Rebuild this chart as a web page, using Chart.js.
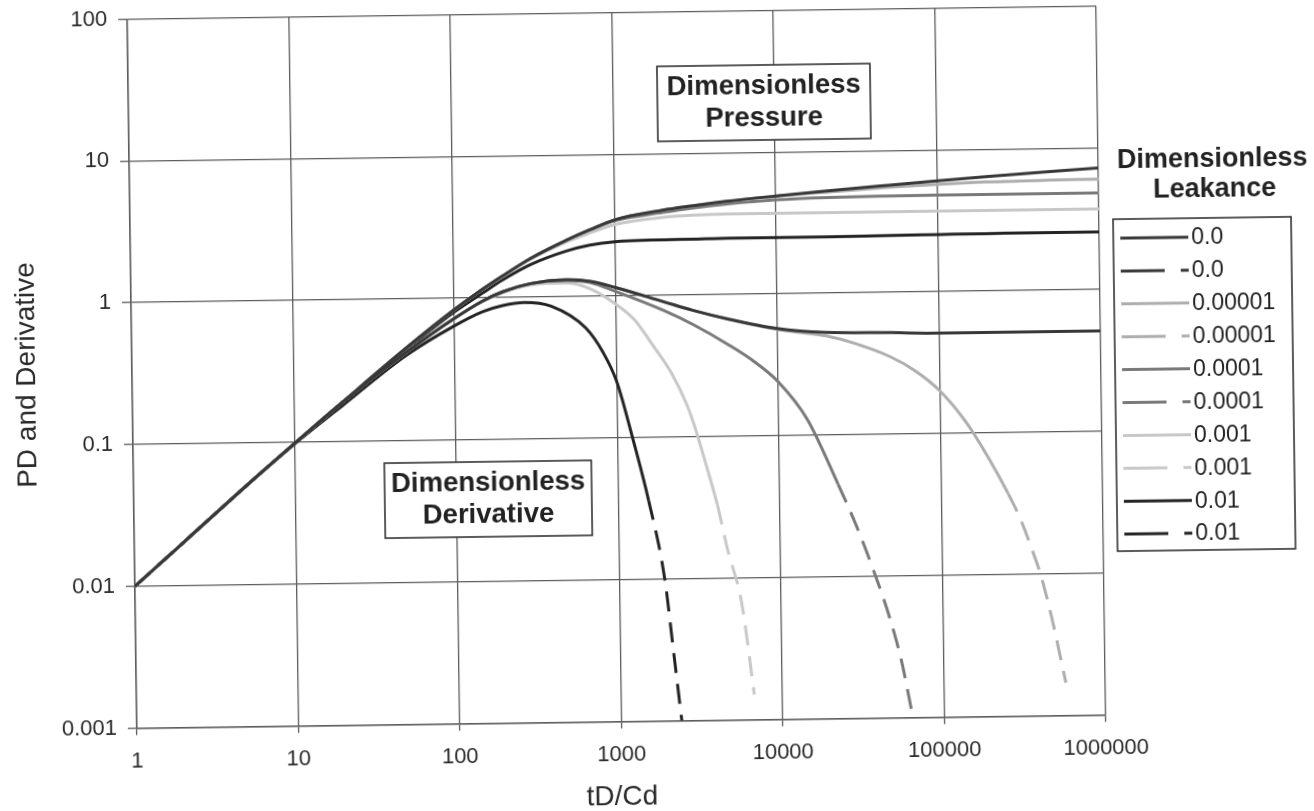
<!DOCTYPE html>
<html>
<head>
<meta charset="utf-8">
<script src="https://cdn.jsdelivr.net/npm/chart.js@4/dist/chart.umd.min.js"></script>
<style>
  html, body { margin: 0; padding: 0; background: #fff; overflow: hidden; }
  #wrap {
    width: 1314px; height: 811px; position: relative;
    transform: rotate(-0.78deg);
    transform-origin: 616.5px 367px;
  }
</style>
</head>
<body>
<div id="wrap"><canvas id="c" width="1314" height="811"></canvas></div>
<script>
// ---- data -----------------------------------------------------------
const leakances = ['0.0', '0.00001', '0.0001', '0.001', '0.01'];

const xTicks = [1, 10, 100, 1000, 10000, 100000, 1000000];
const yTicks = [0.001, 0.01, 0.1, 1, 10, 100];

// dimensionless time tD/Cd for the pressure curves
const tPressure = [1, 2, 5, 10, 20, 50, 100, 150, 200, 300, 500, 700, 1000, 2000, 3000, 5000,
                   10000, 20000, 50000, 100000, 200000, 500000, 1000000];

const pressure0     = [0.01, 0.02, 0.05, 0.098, 0.19, 0.45, 0.83, 1.15, 1.42, 1.88, 2.5, 2.95, 3.45, 4.0, 4.25, 4.55,
                       4.9, 5.25, 5.7, 6.05, 6.4, 6.85, 7.2];
const pressure1e5   = [0.01, 0.02, 0.05, 0.098, 0.19, 0.45, 0.83, 1.15, 1.42, 1.88, 2.5, 2.95, 3.45, 4.0, 4.25, 4.55,
                       4.88, 5.15, 5.5, 5.72, 5.88, 5.97, 6.0];
const pressure1e4   = [0.01, 0.02, 0.05, 0.098, 0.19, 0.45, 0.83, 1.15, 1.42, 1.88, 2.5, 2.93, 3.4, 3.85, 4.1, 4.35,
                       4.6, 4.72, 4.78, 4.8, 4.8, 4.8, 4.8];
const pressure1e3   = [0.01, 0.02, 0.05, 0.098, 0.19, 0.45, 0.83, 1.15, 1.41, 1.85, 2.43, 2.8, 3.2, 3.55, 3.65, 3.7,
                       3.7, 3.7, 3.7, 3.7, 3.7, 3.7, 3.7];
const pressure1e2   = [0.01, 0.02, 0.05, 0.098, 0.19, 0.44, 0.8, 1.08, 1.33, 1.7, 2.1, 2.3, 2.42, 2.47, 2.48, 2.5,
                       2.5, 2.5, 2.52, 2.53, 2.54, 2.55, 2.55];

// derivative curves, each with its own time samples
const tDeriv0   = [1, 2, 5, 10, 20, 50, 100, 150, 200, 300, 500, 700, 1000, 2000, 3000, 5000,
                   10000, 20000, 50000, 100000, 200000, 500000, 1000000];
const deriv0    = [0.01, 0.02, 0.05, 0.098, 0.19, 0.42, 0.72, 0.95, 1.1, 1.25, 1.32, 1.28, 1.15, 0.9, 0.78, 0.67,
                   0.57, 0.53, 0.52, 0.51, 0.51, 0.51, 0.51];

const tDeriv1e5 = [1, 2, 5, 10, 20, 50, 100, 150, 200, 300, 500, 700, 1000, 2000, 3000, 5000,
                   10000, 20000, 30000, 50000, 70000, 100000, 144000, 200000, 260000, 310000, 360000, 410000,
                   470000, 570000];
const deriv1e5  = [0.01, 0.02, 0.05, 0.098, 0.19, 0.42, 0.72, 0.95, 1.1, 1.25, 1.32, 1.28, 1.15, 0.9, 0.78, 0.67,
                   0.56, 0.5, 0.44, 0.35, 0.28, 0.2, 0.12, 0.065, 0.037, 0.024, 0.015, 0.0095,
                   0.005, 0.0017];

const tDeriv1e4 = [1, 2, 5, 10, 20, 50, 100, 150, 200, 300, 500, 700, 1000, 2000, 3000, 5000,
                   7000, 10000, 15000, 23000, 30000, 37500, 47000, 55000, 63000];
const deriv1e4  = [0.01, 0.02, 0.05, 0.098, 0.19, 0.42, 0.72, 0.95, 1.1, 1.25, 1.3, 1.25, 1.08, 0.78, 0.62, 0.44,
                   0.34, 0.24, 0.13, 0.045, 0.022, 0.011, 0.005, 0.0025, 0.0011];

const tDeriv1e3 = [1, 2, 5, 10, 20, 50, 100, 150, 200, 300, 500, 700, 1000, 1300, 1700, 2200, 2700, 3000,
                   3500, 4100, 4700, 5700, 6700];
const deriv1e3  = [0.01, 0.02, 0.05, 0.098, 0.19, 0.42, 0.72, 0.94, 1.08, 1.22, 1.25, 1.13, 0.88, 0.68, 0.44, 0.28,
                   0.17, 0.12, 0.065, 0.033, 0.016, 0.0066, 0.0015];

const tDeriv1e2 = [1, 2, 5, 10, 20, 50, 100, 150, 200, 270, 400, 650, 830, 1000, 1240, 1540, 1910, 2140, 2370];
const deriv1e2  = [0.01, 0.02, 0.05, 0.097, 0.18, 0.4, 0.64, 0.8, 0.88, 0.92, 0.86, 0.6, 0.4, 0.25, 0.1, 0.036,
                   0.01, 0.003, 0.001];

// ---- styling --------------------------------------------------------
const FONT = '"Liberation Sans", Arial, Helvetica, sans-serif';
const leakColors = ['#383838', '#aeaeae', '#7a7a7a', '#c8c8c8', '#242424'];
const GRID = '#5c5c5c';

const toPoints = (xs, ys) => xs.map((x, i) => ({ x: x, y: ys[i] }));

const pressureSets = [pressure0, pressure1e5, pressure1e4, pressure1e3, pressure1e2];
const derivSets = [
  [tDeriv0, deriv0], [tDeriv1e5, deriv1e5], [tDeriv1e4, deriv1e4], [tDeriv1e3, deriv1e3], [tDeriv1e2, deriv1e2]
];

const datasets = [];
leakances.forEach((lbl, i) => {
  datasets.push({
    label: lbl,
    kind: 'pressure',
    data: toPoints(tPressure, pressureSets[i]),
    borderColor: leakColors[i],
    borderWidth: 3,
    pointRadius: 0,
    cubicInterpolationMode: 'monotone',
    fill: false
  });
  datasets.push({
    label: lbl,
    kind: 'derivative',
    data: toPoints(derivSets[i][0], derivSets[i][1]),
    borderColor: leakColors[i],
    borderWidth: 3,
    pointRadius: 0,
    cubicInterpolationMode: 'monotone',
    fill: false,
    segment: {
      // the steep tail of each derivative breaks into dashes
      borderDash: ctx => (ctx.p1.parsed.y < 0.03 ? [20, 11] : undefined)
    }
  });
});

// ---- labels, boxes and legend drawn on top --------------------------
function textBox(ctx, x, y, w, h, lines) {
  ctx.fillStyle = '#ffffff';
  ctx.fillRect(x, y, w, h);
  ctx.strokeStyle = '#333333';
  ctx.lineWidth = 1.6;
  ctx.strokeRect(x, y, w, h);
  ctx.fillStyle = '#222222';
  ctx.font = 'bold 27.5px ' + FONT;
  ctx.textAlign = 'center';
  ctx.textBaseline = 'middle';
  ctx.fillText(lines[0], x + w / 2, y + 21);
  ctx.fillText(lines[1], x + w / 2, y + 53);
}

const overlay = {
  id: 'overlay',
  afterDraw(chart) {
    const ctx = chart.ctx;
    ctx.save();
    textBox(ctx, 661, 67, 213, 75, ['Dimensionless', 'Pressure']);
    textBox(ctx, 383, 460, 207, 75, ['Dimensionless', 'Derivative']);

    // legend heading
    ctx.fillStyle = '#222222';
    ctx.font = 'bold 27px ' + FONT;
    ctx.textAlign = 'center';
    ctx.textBaseline = 'middle';
    ctx.fillText('Dimensionless', 1215, 168);
    ctx.fillText('Leakance', 1217, 198);

    // legend frame
    ctx.strokeStyle = '#333333';
    ctx.lineWidth = 1.6;
    ctx.strokeRect(1115, 226, 178, 332);

    ctx.font = '23px ' + FONT;
    ctx.textAlign = 'left';
    chart.data.datasets.forEach((ds, i) => {
      const y = 245 + i * 32.9;
      ctx.strokeStyle = ds.borderColor;
      ctx.lineWidth = 3;
      ctx.beginPath();
      if (ds.kind === 'pressure') {
        ctx.moveTo(1122, y); ctx.lineTo(1190, y);
      } else {
        ctx.moveTo(1122, y); ctx.lineTo(1166, y);
        ctx.moveTo(1182, y); ctx.lineTo(1190, y);
      }
      ctx.stroke();
      ctx.fillStyle = '#222222';
      ctx.fillText(ds.label, 1193, y + 1);
    });
    ctx.restore();
  }
};

new Chart(document.getElementById('c'), {
  type: 'line',
  data: { datasets: datasets },
  plugins: [overlay],
  options: {
    responsive: false,
    animation: false,
    devicePixelRatio: 1,
    layout: { padding: { left: 0, right: 213, top: 12.5, bottom: 0 } },
    plugins: { legend: { display: false }, tooltip: { enabled: false } },
    scales: {
      x: {
        type: 'logarithmic',
        min: 1,
        max: 1000000,
        afterBuildTicks: s => { s.ticks = xTicks.map(v => ({ value: v })); },
        afterFit: s => { s.height = 89.5; s.paddingLeft = 0; s.paddingRight = 0; },
        ticks: {
          autoSkip: false,
          maxRotation: 0,
          padding: 13,
          color: '#2a2a2a',
          font: { family: FONT, size: 22 },
          callback: v => String(v)
        },
        grid: { color: GRID, lineWidth: 1.3, tickLength: 7, drawTicks: true },
        border: { color: GRID, width: 1.5 },
        title: {
          display: true,
          text: 'tD/Cd',
          color: '#2a2a2a',
          font: { family: FONT, size: 28, lineHeight: 1 },
          padding: { top: 0, bottom: 0 }
        }
      },
      y: {
        type: 'logarithmic',
        min: 0.001,
        max: 100,
        afterBuildTicks: s => { s.ticks = yTicks.map(v => ({ value: v })); },
        // fixed axis width; the tick labels may overhang the plot edges
        afterFit: s => { s.width = 132; s.paddingTop = 0; s.paddingBottom = 0; },
        ticks: {
          autoSkip: false,
          padding: 11,
          color: '#2a2a2a',
          font: { family: FONT, size: 22 },
          callback: v => String(v)
        },
        grid: { color: GRID, lineWidth: 1.3, tickLength: 9, drawTicks: true },
        border: { color: GRID, width: 1.5 },
        title: {
          display: true,
          text: 'PD and Derivative',
          color: '#2a2a2a',
          font: { family: FONT, size: 28 },
          padding: { top: 10, bottom: 0 }
        }
      }
    }
  }
});
</script>
</body>
</html>
